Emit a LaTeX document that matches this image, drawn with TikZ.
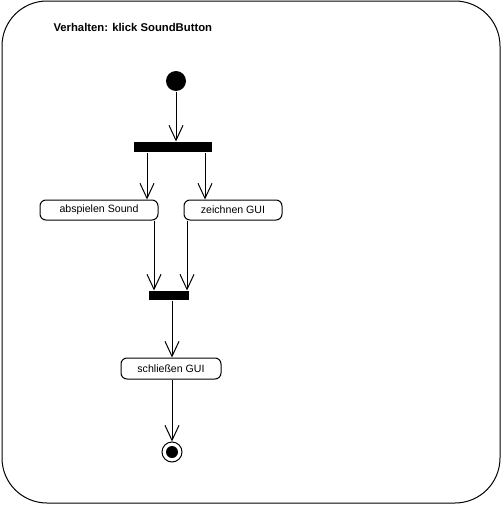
\documentclass[tikz,border=0pt]{standalone}
\usepackage{fontspec}
\setmainfont{Liberation Sans}
\usetikzlibrary{arrows.meta,calc}
\begin{document}
\begin{tikzpicture}[x=1pt,y=-1pt,line width=1pt,
  actbox/.style={draw,rounded corners=6pt,inner sep=0pt,font=\fontsize{10.6}{12}\selectfont},
  bar/.style={fill=black,draw=none,inner sep=0pt},
  arr/.style={-{Straight Barb[length=15pt,width=14pt,line width=1pt]}}]
\useasboundingbox (0,0) rectangle (502,506);
\draw[rounded corners=45pt] (2,1) rectangle (500,503);
\node[anchor=base west,font=\bfseries\fontsize{11.3}{13}\selectfont,inner sep=0pt] (title) at (53,31.5) {Verhalten: klick SoundButton};
\node[circle,fill=black,inner sep=0pt,minimum size=20pt] (start) at (176,81) {};
\node[bar,minimum width=78pt,minimum height=10pt] (fork) at (173,147) {};
\node[actbox,minimum width=118pt,minimum height=20pt] (a1) at (99,210) {abspielen Sound};
\node[actbox,minimum width=98pt,minimum height=20pt] (a2) at (233,210) {zeichnen GUI};
\node[bar,minimum width=40pt,minimum height=9pt] (join) at (169,295.5) {};
\node[actbox,minimum width=100pt,minimum height=21pt] (a3) at (171,368.5) {schließen GUI};
\node[circle,draw,inner sep=0pt,minimum size=20pt] (final) at (172,452) {};
\node[circle,fill=black,inner sep=0pt,minimum size=12pt] (finaldot) at (final.center) {};
\coordinate (x1) at (147,0);
\coordinate (x2) at (205,0);
\coordinate (x3) at (154,0);
\coordinate (x4) at (187,0);
\coordinate (x5) at (172,0);
\draw[arr] (start.south) -- (start.south |- fork.north);
\draw[arr] (fork.south -| x1) -- (a1.north -| x1);
\draw[arr] (fork.south -| x2) -- (a2.north -| x2);
\draw[arr] (a1.south -| x3) -- (join.north -| x3);
\draw[arr] (a2.south -| x4) -- (join.north -| x4);
\draw[arr] (join.south -| x5) -- (a3.north -| x5);
\draw[arr] (a3.south -| x5) -- (final.north);
\end{tikzpicture}
\end{document}
